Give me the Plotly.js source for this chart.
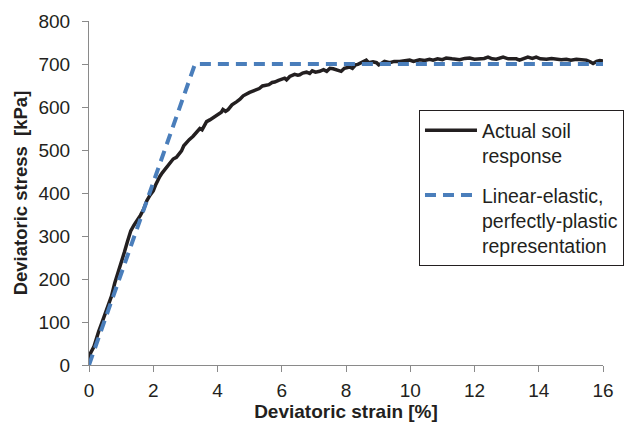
<!DOCTYPE html>
<html>
<head>
<meta charset="utf-8">
<script src="https://cdn.plot.ly/plotly-3.0.1.min.js"></script>
<style>html,body{margin:0;padding:0;background:#fff;}#chart{width:624px;height:423px;}</style>
</head>
<body>
<div id="chart"></div>
<script>
// Actual soil response
var actualStrain = [0.00,0.05,0.15,0.25,0.30,0.40,0.50,0.60,0.70,0.80,0.90,1.00,1.10,1.20,1.30,1.40,1.50,1.60,1.70,1.80,1.90,2.00,2.08,2.15,2.20,2.28,2.36,2.42,2.48,2.56,2.62,2.72,2.80,2.88,2.95,3.03,3.12,3.24,3.33,3.40,3.45,3.52,3.60,3.66,3.76,3.85,3.97,4.05,4.12,4.17,4.25,4.33,4.45,4.59,4.70,4.80,4.90,5.00,5.10,5.21,5.30,5.40,5.47,5.60,5.70,5.78,5.90,6.00,6.09,6.15,6.25,6.40,6.50,6.56,6.65,6.77,6.87,6.95,7.05,7.18,7.30,7.40,7.50,7.60,7.70,7.85,7.95,8.11,8.20,8.30,8.37,8.50,8.63,8.70,8.84,8.95,9.02,9.10,9.20,9.36,9.50,9.67,9.80,9.98,10.10,10.29,10.45,10.60,10.71,10.85,11.00,11.12,11.30,11.44,11.54,11.70,11.85,12.00,12.16,12.30,12.42,12.55,12.68,12.80,12.89,13.05,13.20,13.30,13.40,13.55,13.66,13.80,13.92,14.05,14.24,14.40,14.55,14.70,14.86,15.00,15.17,15.30,15.48,15.60,15.69,15.80,15.90,16.00];
var actualStress = [10,28,42,70,78,98,118,138,160,190,212,238,262,288,312,325,336,348,362,382,395,405,420,432,438,447,455,462,466,474,479,483,490,498,510,518,524,532,540,546,550,547,558,566,570,574,580,585,588,594,590,594,605,612,618,626,631,634,637,640,643,649,650,652,657,658,662,664,667,663,671,676,674,675,679,681,678,684,681,683,687,683,690,689,686,683,690,693,690,698,699,703,709,703,705,703,698,701,706,703,706,706,708,709,706,710,708,711,709,712,710,714,712,711,710,713,714,711,711,713,716,712,711,714,716,712,711,712,709,713,716,713,716,712,711,713,712,710,711,709,711,710,709,705,701,706,708,707];

// Linear-elastic, perfectly-plastic idealisation
var modelStrain = [0, 3.3, 16];
var modelStress = [0, 700, 700];

var names = ["Actual soil<br>response", "Linear-elastic,<br>perfectly-plastic<br>representation"];
var xTicks = [0, 2, 4, 6, 8, 10, 12, 14, 16];
var yTicks = [0, 100, 200, 300, 400, 500, 600, 700, 800];

var txt = "#231f20";
var fontFam = "Liberation Sans, Arial, sans-serif";

var traces = [
  {x: actualStrain, y: actualStress, type: "scatter", mode: "lines", name: names[0], legendgroup: "a",
   line: {color: "#231f20", width: 3.5}},
  {x: modelStrain, y: modelStress, type: "scatter", mode: "lines", name: names[1], legendgroup: "b",
   line: {color: "#4a7ebb", width: 4, dash: "11px,7px"}}
];

var layout = {
  width: 624, height: 423,
  margin: {l: 89, r: 21, t: 21, b: 58, autoexpand: false},
  paper_bgcolor: "#fff", plot_bgcolor: "#fff",
  font: {family: fontFam, size: 19, color: txt},
  showlegend: true,
  legend: {
    x: 0.642, y: 0.741, xanchor: "left", yanchor: "top",
    bgcolor: "#fff", bordercolor: "#231f20", borderwidth: 1,
    font: {family: fontFam, size: 19.5, color: txt},
    valign: "top", tracegroupgap: 11, itemwidth: 52
  },
  xaxis: {
    range: [0, 16], tickvals: xTicks, ticktext: xTicks.map(String),
    showgrid: false, zeroline: false, showline: true, linecolor: "#8a8a8a", linewidth: 1,
    ticks: "outside", ticklen: 6, tickcolor: "#8a8a8a", ticklabelstandoff: 2, automargin: false,
    tickfont: {family: fontFam, size: 19, color: txt},
    title: {text: "<b>Deviatoric strain [%]</b>", font: {family: fontFam, size: 19, color: txt}, standoff: 3}
  },
  yaxis: {
    range: [0, 800], tickvals: yTicks, ticktext: yTicks.map(String),
    showgrid: false, zeroline: false, showline: true, linecolor: "#8a8a8a", linewidth: 1,
    ticks: "outside", ticklen: 6, tickcolor: "#8a8a8a", ticklabelstandoff: 8, automargin: false,
    tickfont: {family: fontFam, size: 19, color: txt},
    title: {text: "<b>Deviatoric stress \u00a0[kPa]</b>", font: {family: fontFam, size: 18.5, color: txt}, standoff: 6}
  }
};

Plotly.newPlot("chart", traces, layout, {displayModeBar: false, staticPlot: true});
</script>
</body>
</html>
